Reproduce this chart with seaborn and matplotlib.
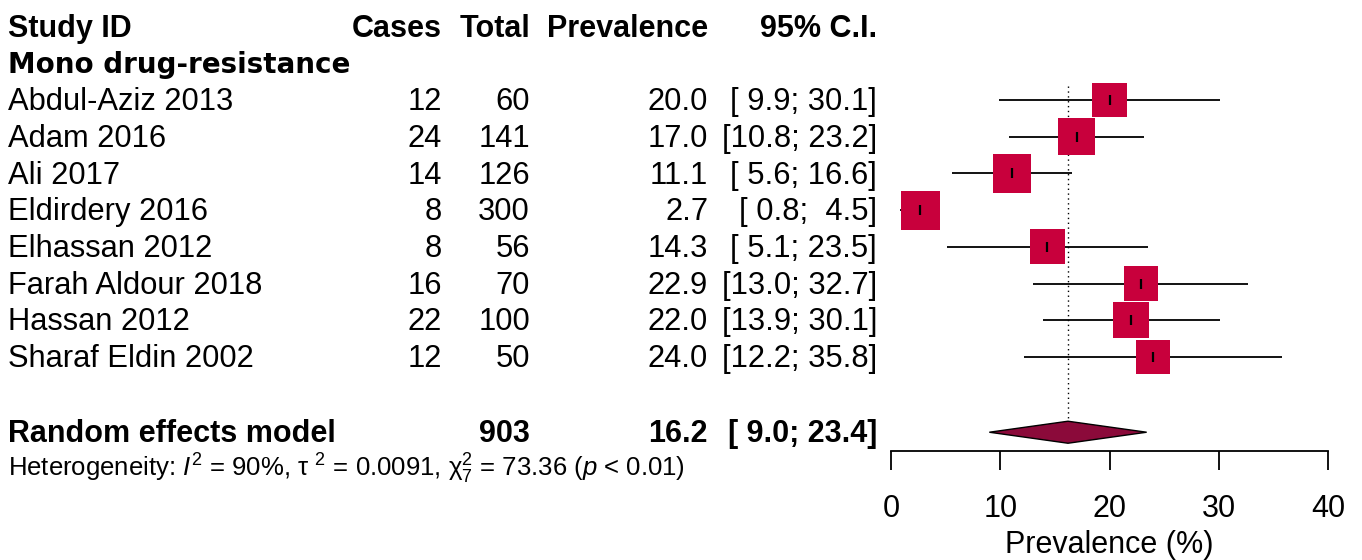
import matplotlib
matplotlib.use('Agg')
import matplotlib.pyplot as plt
import matplotlib.transforms as mtransforms
from matplotlib.patches import Polygon
import numpy as np
import pandas as pd
import seaborn as sns

# data
studies = ['Abdul-Aziz 2013', 'Adam 2016', 'Ali 2017', 'Eldirdery 2016',
           'Elhassan 2012', 'Farah Aldour 2018', 'Hassan 2012', 'Sharaf Eldin 2002']
cases = [12, 24, 14, 8, 8, 16, 22, 12]
totals = [60, 141, 126, 300, 56, 70, 100, 50]
prev = [20.0, 17.0, 11.1, 2.7, 14.3, 22.9, 22.0, 24.0]
ci_lo = [9.9, 10.8, 5.6, 0.8, 5.1, 13.0, 13.9, 12.2]
ci_hi = [30.1, 23.2, 16.6, 4.5, 23.5, 32.7, 30.1, 35.8]
weights = [11.2, 13.3, 14.0, 14.7, 11.9, 11.5, 12.5, 10.9]

pooled_total = 903
pooled_est = 16.2
pooled_lo = 9.0
pooled_hi = 23.4
het_text = (r'Heterogeneity: $I^2$ = 90%, τ $^2$ = 0.0091, '
            r'χ$^2_7$ = 73.36 ($p$ < 0.01)')

x_ticks = [0, 10, 20, 30, 40]

sns.set_style('white')
plt.rcParams['font.family'] = ['Liberation Sans', 'DejaVu Sans']
plt.rcParams['text.color'] = 'black'
plt.rcParams['xtick.color'] = 'black'
plt.rcParams['axes.labelcolor'] = 'black'
plt.rcParams['mathtext.fontset'] = 'custom'
plt.rcParams['mathtext.rm'] = 'Liberation Sans'
plt.rcParams['mathtext.it'] = 'Liberation Sans:italic'
plt.rcParams['mathtext.bf'] = 'Liberation Sans:bold'

W, H = 1362, 560
fig = plt.figure(figsize=(W / 100, H / 100), dpi=100)

# forest panel, x 0..40, rows in row units
row_gap = 36.71
first_px = 100.0
top_idx = -first_px / row_gap
bot_idx = (451 - first_px) / row_gap
ax = fig.add_axes([891 / W, 1 - 451 / H, 437 / W, 451 / H])

df = pd.DataFrame({'study': studies, 'prev': prev, 'lo': ci_lo, 'hi': ci_hi,
                   'w': weights, 'row': np.arange(len(studies))})

ax.hlines(df['row'], df['lo'], df['hi'], color='black', lw=1.3, zorder=2)

k = 10.2 * 72 / 100  # side in points per sqrt(weight)
sns.scatterplot(data=df, x='prev', y='row', size='w',
                sizes=(0, (k ** 2) * df['w'].max()), size_norm=(0, df['w'].max()),
                marker='s', color='#C8003C', linewidth=0, legend=False,
                ax=ax, zorder=3)
ax.scatter(df['prev'], df['row'], marker='|', s=50, color='black',
           linewidths=1.6, zorder=4)

pooled_row = len(studies) + 1.05
ax.vlines(pooled_est, (86 - first_px) / row_gap, pooled_row - 0.3,
          color='black', lw=1.0, linestyles=(0, (1, 2.5)), zorder=1)
ax.add_patch(Polygon([(pooled_lo, pooled_row), (pooled_est, pooled_row - 0.3),
                      (pooled_hi, pooled_row), (pooled_est, pooled_row + 0.3)],
                     closed=True, facecolor='#8B0A3A', edgecolor='black', lw=1.0,
                     zorder=3))

ax.set_xlim(0, 40)
ax.set_ylim(bot_idx, top_idx)
ax.set_yticks([])
ax.set_ylabel('')
ax.set_xticks(x_ticks)
ax.set_xticklabels([str(t) for t in x_ticks], fontsize=22)
for s in ['top', 'left', 'right']:
    ax.spines[s].set_visible(False)
ax.spines['bottom'].set_linewidth(1.3)
ax.spines['bottom'].set_color('black')
ax.tick_params(axis='x', direction='out', length=14, width=1.3, color='black',
               pad=17, bottom=True)
ax.set_xlabel('Prevalence (%)', fontsize=22, labelpad=4)
ax.set_facecolor('none')

# text columns
tr = mtransforms.blended_transform_factory(fig.transFigure, ax.transData)
col_study = 8 / W
col_cases = 442 / W
col_total = 530 / W
col_prev = 708 / W
col_ci = 877 / W
fs = 22.2
fs_bold = 22
dy = 0.06  # small nudge so text sits on the row centre


def put(x, y, s, ha='left', weight='normal', family=None, size=fs):
    kw = dict(transform=tr, ha=ha, va='center', fontsize=size,
              fontweight=weight, clip_on=False)
    if family:
        kw['family'] = family
    ax.text(x, y + dy, s, **kw)


hdr = -2
put(col_study, hdr, 'Study ID', weight='bold', size=fs_bold)
put(col_cases, hdr, 'Cases', ha='right', weight='bold', size=fs_bold)
put(col_total, hdr, 'Total', ha='right', weight='bold', size=fs_bold)
put(col_prev, hdr, 'Prevalence', ha='right', weight='bold', size=fs_bold)
put(col_ci, hdr, '95% C.I.', ha='right', weight='bold', size=fs_bold)
put(col_study, -1, 'Mono drug-resistance', weight='bold', family='DejaVu Sans',
    size=20)

for i, r in df.iterrows():
    put(col_study, r['row'], r['study'])
    put(col_cases, r['row'], str(cases[i]), ha='right')
    put(col_total, r['row'], str(totals[i]), ha='right')
    put(col_prev, r['row'], f"{r['prev']:.1f}", ha='right')
    put(col_ci, r['row'], f"[{r['lo']:4.1f}; {r['hi']:4.1f}]", ha='right')

put(col_study, pooled_row, 'Random effects model', weight='bold', size=fs_bold)
put(col_total, pooled_row, str(pooled_total), ha='right', weight='bold',
    size=fs_bold)
put(col_prev, pooled_row, f'{pooled_est:.1f}', ha='right', weight='bold',
    size=fs_bold)
put(col_ci, pooled_row, f'[{pooled_lo:4.1f}; {pooled_hi:4.1f}]', ha='right',
    weight='bold', size=fs_bold)
put(col_study, pooled_row + 0.93, het_text, size=18.5)

fig.savefig('out.png', dpi=100)
